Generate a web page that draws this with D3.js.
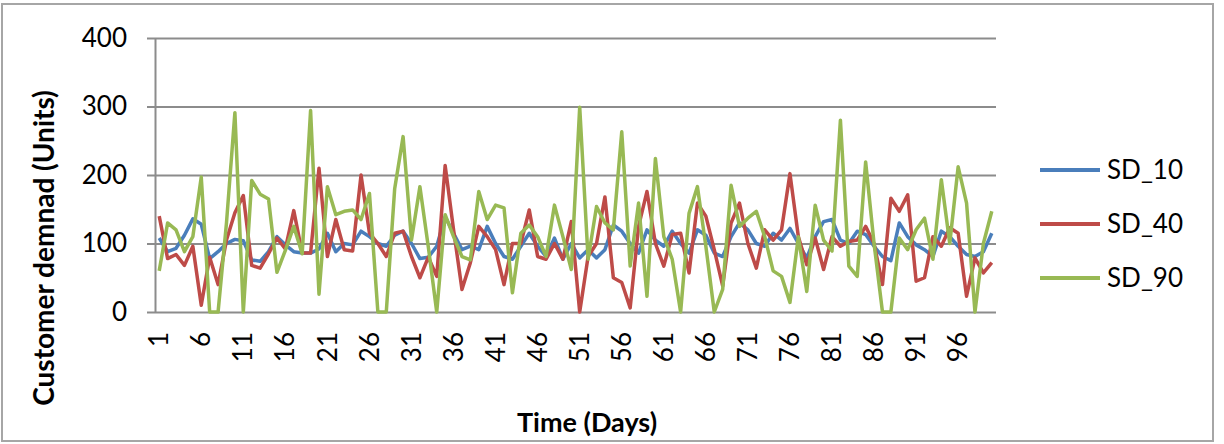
<!DOCTYPE html>
<html>
<head>
<meta charset="utf-8">
<script src="https://cdn.jsdelivr.net/npm/d3@7"></script>
<style>
  body { margin: 0; background: #fff; }
  text { font-family: Lato, "Open Sans", sans-serif; fill: #000; }
</style>
</head>
<body>
<svg id="chart"></svg>
<script>
const days = d3.range(1, 101);
const xTickLabels = [1, 6, 11, 16, 21, 26, 31, 36, 41, 46, 51, 56, 61, 66, 71, 76, 81, 86, 91, 96];
const yTicks = [0, 100, 200, 300, 400];
const seriesNames = ["SD_10", "SD_40", "SD_90"];

const sd10 = [108, 88, 93, 112, 136, 128, 78, 88, 100, 106, 104, 76, 74, 88, 110, 98, 88, 86, 86, 92,
  115, 88, 100, 98, 118, 110, 100, 96, 112, 118, 100, 78, 80, 96, 139, 115, 91, 96, 91, 125,
  100, 81, 77, 96, 115, 96, 81, 108, 77, 100, 79, 91, 79, 91, 127, 118, 100, 86, 120, 105,
  96, 118, 100, 86, 120, 112, 86, 81, 110, 130, 120, 100, 96, 115, 105, 122, 100, 79, 110, 132,
  135, 105, 100, 118, 113, 96, 81, 75, 130, 110, 98, 91, 81, 118, 110, 96, 84, 81, 88, 115];

const sd40 = [140, 78, 84, 68, 96, 10, 80, 40, 105, 145, 170, 68, 64, 85, 108, 92, 148, 86, 86, 210,
  81, 135, 91, 89, 200, 115, 100, 81, 115, 118, 81, 50, 80, 52, 214, 120, 33, 72, 125, 110,
  91, 40, 100, 100, 149, 81, 77, 100, 77, 132, 0, 81, 100, 168, 50, 43, 6, 125, 176, 100,
  67, 113, 115, 57, 159, 140, 91, 38, 130, 159, 100, 64, 120, 105, 120, 202, 110, 69, 108, 62,
  110, 96, 103, 105, 125, 100, 40, 166, 147, 171, 45, 50, 110, 96, 123, 115, 23, 79, 57, 72];

const sd90 = [60, 130, 120, 88, 110, 197, 0, 0, 130, 291, 0, 192, 172, 165, 58, 90, 125, 85, 294, 26,
  183, 142, 147, 149, 135, 173, 0, 0, 180, 256, 105, 183, 95, 0, 142, 110, 81, 76, 176, 135,
  156, 152, 28, 115, 127, 110, 81, 156, 110, 62, 299, 77, 154, 130, 120, 263, 67, 159, 23, 224,
  110, 77, 0, 144, 183, 96, 0, 33, 185, 125, 137, 147, 110, 60, 52, 14, 110, 30, 156, 105,
  89, 280, 67, 52, 219, 100, 0, 0, 108, 91, 120, 137, 77, 193, 100, 212, 159, 0, 100, 147];

const seriesValues = [sd10, sd40, sd90];
const colors = ["#4a7ebb", "#be4b48", "#98b954"];

const W = 1224, H = 444;
const plot = { left: 155, right: 996, top: 38, bottom: 312 };

const svg = d3.select("#chart").attr("width", W).attr("height", H);

// outer frame
svg.append("rect")
  .attr("x", 2).attr("y", 4)
  .attr("width", 1211).attr("height", 437)
  .attr("fill", "#fff")
  .attr("stroke", "#a6a6a6")
  .attr("stroke-width", 2);

const x = d3.scaleBand().domain(days).range([plot.left, plot.right]).padding(0);
const y = d3.scaleLinear().domain([0, 400]).range([plot.bottom, plot.top]);

// gridlines (extend a little left of the axis like tick marks)
svg.append("g")
  .attr("class", "grid")
  .attr("transform", "translate(147,0)")
  .call(d3.axisRight(y).tickValues(yTicks).tickSize(plot.right - 147).tickFormat(""))
  .call((g) => g.select(".domain").remove())
  .call((g) => g.selectAll("line").attr("stroke", "#8c8c8c").attr("stroke-width", 2));

// y axis
svg.append("g")
  .attr("transform", "translate(" + plot.left + ",0)")
  .call(d3.axisLeft(y).tickValues(yTicks).tickSize(0).tickPadding(28))
  .call((g) => g.select(".domain").attr("stroke", "#8c8c8c").attr("stroke-width", 2))
  .call((g) => g.selectAll("text").style("font-size", "26px").attr("font-family", null));

// x axis
svg.append("g")
  .attr("transform", "translate(0," + plot.bottom + ")")
  .call(d3.axisBottom(x).tickValues(xTickLabels).tickSize(0))
  .call((g) => g.select(".domain").remove())
  .call((g) =>
    g.selectAll("text")
      .style("font-size", "26px")
      .attr("font-family", null)
      .attr("text-anchor", "end")
      .attr("transform", "rotate(-90)")
      .attr("x", -20)
      .attr("y", 0)
      .attr("dy", "0.35em")
  );

// lines
const line = d3.line()
  .x((d, i) => x(days[i]) + x.bandwidth() / 2)
  .y((d) => y(d));

svg.selectAll(".series")
  .data(seriesValues)
  .enter()
  .append("path")
  .attr("class", "series")
  .attr("fill", "none")
  .attr("stroke", (d, i) => colors[i])
  .attr("stroke-width", 3.5)
  .attr("stroke-linejoin", "round")
  .attr("d", line);

// axis titles
svg.append("text")
  .attr("x", 587).attr("y", 425)
  .attr("text-anchor", "middle")
  .attr("dominant-baseline", "middle")
  .style("font-size", "27px")
  .style("font-weight", "bold")
  .text("Time (Days)");

svg.append("text")
  .attr("transform", "translate(47,248) rotate(-90)")
  .attr("text-anchor", "middle")
  .attr("dominant-baseline", "middle")
  .style("font-size", "28px")
  .style("font-weight", "bold")
  .text("Customer demnad (Units)");

// legend
const legend = svg.selectAll(".legend")
  .data(seriesNames)
  .enter()
  .append("g")
  .attr("class", "legend")
  .attr("transform", (d, i) => "translate(1040," + (170 + i * 54) + ")");

legend.append("line")
  .attr("x1", 0).attr("x2", 60)
  .attr("stroke", (d, i) => colors[i])
  .attr("stroke-width", 4);

legend.append("text")
  .attr("x", 67)
  .attr("dy", "0.35em")
  .style("font-size", "26px")
  .text((d) => d);
</script>
</body>
</html>
